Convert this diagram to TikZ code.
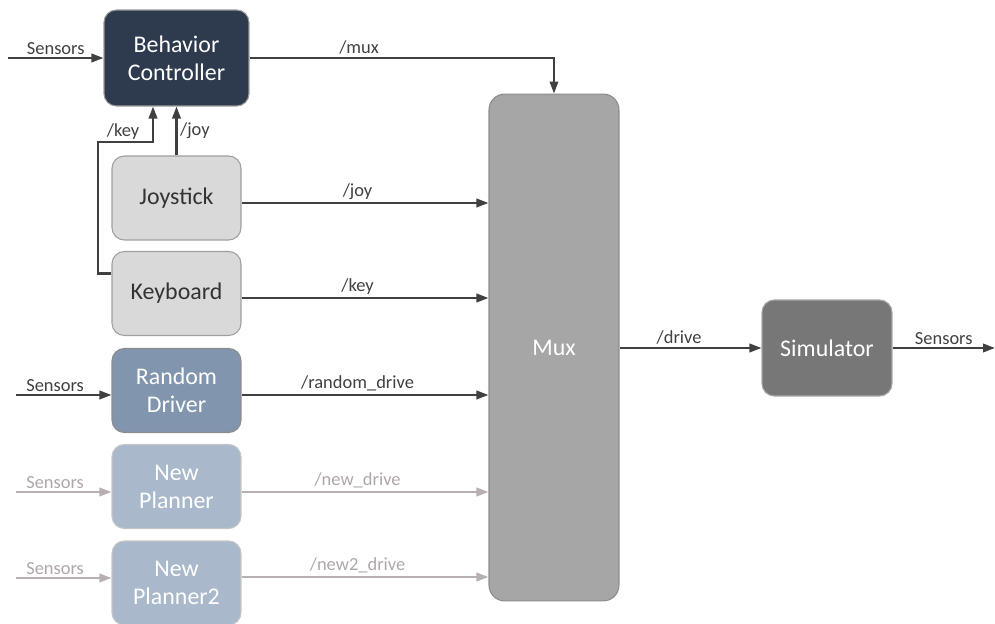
\documentclass[tikz,border=0pt]{standalone}
\usepackage{fontspec}
\setmainfont{Carlito}
\usetikzlibrary{arrows.meta,positioning,calc}
\definecolor{bcfill}{HTML}{2E3B4E}
\definecolor{keyfill}{HTML}{D9D9D9}
\definecolor{rndfill}{HTML}{8195AE}
\definecolor{newfill}{HTML}{A9B9CB}
\definecolor{muxfill}{HTML}{A6A6A6}
\definecolor{simfill}{HTML}{777777}
\definecolor{linedark}{HTML}{404040}
\definecolor{linegray}{HTML}{B8B0B0}
\tikzset{
  box/.style  ={draw,rounded corners=7pt,align=center,inner sep=2pt,
                font=\fontsize{13.6}{16}\selectfont,line width=0.6pt,
                minimum width=2.58cm,minimum height=1.68cm},
  ctrl/.style ={box,fill=bcfill,draw=gray!80,text=white,minimum width=2.9cm,minimum height=1.92cm},
  input/.style={box,fill=keyfill,draw=gray!75,text=black!80},
  rand/.style ={box,fill=rndfill,draw=gray!90,text=white},
  plan/.style ={box,fill=newfill,draw=gray!45,text=white},
  mux/.style  ={box,fill=muxfill,draw=gray!90,text=white,rounded corners=9pt,
                minimum width=2.6cm,minimum height=10.14cm},
  sim/.style  ={box,fill=simfill,draw=gray!70,text=white,minimum width=2.6cm,minimum height=1.92cm},
  lbl/.style  ={font=\fontsize{10.5}{12}\selectfont,text=linedark,inner sep=1.5pt},
  glbl/.style ={lbl,text=linegray!95!black},
  flow/.style ={-{Triangle[length=2.4mm,width=1.7mm]},line width=1.2pt,draw=linedark},
  gflow/.style={flow,draw=linegray},
}

\begin{document}
\begin{tikzpicture}[x=0.02cm,y=-0.02cm]
  \useasboundingbox (0,0) rectangle (995,624);
  % blocks
  \node[ctrl]  (bc)  at (176.5,58)    {Behavior\\Controller};
  \node[input] (joy) at (176.5,198)   {Joystick};
  \node[input] (key) at (176.5,293.5) {Keyboard};
  \node[rand]  (rnd) at (176.5,390.5) {Random\\Driver};
  \node[plan]  (np1) at (176.5,486.5) {New\\Planner};
  \node[plan]  (np2) at (176.5,583)   {New\\Planner2};
  \node[mux]   (mux) at (554,347.5)   {Mux};
  \node[sim]   (sim) at (827,348)     {Simulator};
  % free ends of the sensor lines
  \coordinate (sbc) at (8,58);
  \coordinate (srn) at (16,395);
  \coordinate (sn1) at (16,492);
  \coordinate (sn2) at (16,578);
  \coordinate (sout) at (995,348);
  \coordinate (kc) at (98,142);
  % sensors in
  \draw[flow]  (sbc) -- node[lbl,above,pos=0.5] {Sensors} (bc.west);
  \draw[flow]  (srn) -- node[lbl,above,pos=0.41] {Sensors} (srn -| rnd.west);
  \draw[gflow] (sn1) -- node[glbl,above,pos=0.41] {Sensors} (sn1 -| np1.west);
  \draw[gflow] (sn2) -- node[glbl,above,pos=0.41] {Sensors} (sn2 -| np2.west);
  % teleop into the controller
  \draw[flow] (joy.north) -- node[lbl,right,pos=0.5] {/joy} (bc.south);
  \draw[flow] ([yshift=0.4cm]key.west) -| (kc) -| ([xshift=-0.47cm]bc.south);
  \node[lbl,anchor=south west] (keylbl) at ([xshift=0.12cm]kc) {/key};
  % topics into the mux
  \draw[flow] (bc.east) -| node[lbl,above,pos=0.18] {/mux} (mux.north);
  \foreach \src/\lbl/\sty/\tsty/\dy in {joy/joy/flow/lbl/-0.1cm, key/key/flow/lbl/-0.09cm,
      rnd/random\_drive/flow/lbl/-0.09cm, np1/new\_drive/gflow/glbl/-0.11cm,
      np2/new2\_drive/gflow/glbl/0.12cm}
    \draw[\sty] ([yshift=\dy]\src.east) -- node[\tsty,above,pos=0.47] {/\lbl} ([yshift=\dy]\src.east -| mux.west);
  % mux to simulator and back out
  \draw[flow] (mux.east |- sim.west) -- node[lbl,above,pos=0.42] {/drive} (sim.west);
  \draw[flow] (sim.east) -- node[lbl,above,pos=0.5] {Sensors} (sout);
\end{tikzpicture}
\end{document}
